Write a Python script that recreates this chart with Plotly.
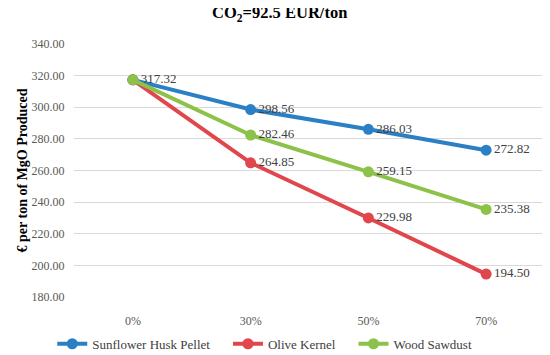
import plotly.graph_objects as go

categories = ["0%", "30%", "50%", "70%"]
sunflower = [317.32, 298.56, 286.03, 272.82]
olive = [317.32, 264.85, 229.98, 194.50]
wood = [317.32, 282.46, 259.15, 235.38]
y_ticks = [180, 200, 220, 240, 260, 280, 300, 320, 340]

series = [
    ("Sunflower Husk Pellet", sunflower, "#2B80C5"),
    ("Olive Kernel", olive, "#E0464B"),
    ("Wood Sawdust", wood, "#8CC14A"),
]

font_family = "Liberation Serif, DejaVu Serif, serif"
pad = "\u00a0" * 4

fig = go.Figure()
for i, (name, vals, col) in enumerate(series):
    labels = ["%.2f" % v for v in vals]
    if i != 0:
        labels[0] = ""
    fig.add_trace(go.Scatter(
        x=categories, y=vals, name=name + (pad if i < len(series) - 1 else ""),
        mode="lines+markers+text",
        line=dict(color=col, width=4),
        marker=dict(color=col, size=11),
        text=labels, textposition="middle right",
        textfont=dict(family=font_family, size=13, color="#404040"),
        cliponaxis=False,
    ))

fig.update_layout(
    width=550, height=355,
    margin=dict(l=66, r=13, t=36, b=66, autoexpand=False),
    paper_bgcolor="white", plot_bgcolor="white",
    title=dict(text="<b>CO<sub>2</sub>=92.5 EUR/ton</b>", x=0.494, xanchor="center",
               xref="container", yref="container",
               y=0.987, yanchor="middle",
               font=dict(family=font_family, size=16.5, color="#000000")),
    font=dict(family=font_family, color="#595959"),
    showlegend=True,
    legend=dict(orientation="h", x=0.405, xanchor="center",
                y=-0.185, yanchor="middle",
                font=dict(family=font_family, size=13, color="#404040"),
                itemwidth=30, tracegroupgap=0),
    xaxis=dict(type="category", categoryorder="array", categoryarray=categories,
               range=[-0.5, 3.5],
               showgrid=False, showline=False, zeroline=False,
               ticks="outside", ticklen=13, tickcolor="rgba(0,0,0,0)",
               tickfont=dict(family=font_family, size=12, color="#595959")),
    yaxis=dict(range=[180, 340], tickvals=y_ticks,
               ticktext=["%.2f" % v for v in y_ticks],
               showgrid=True, gridcolor="#D9D9D9", gridwidth=1,
               zeroline=False, showline=False,
               ticks="outside", ticklen=6, tickcolor="rgba(0,0,0,0)",
               tickfont=dict(family=font_family, size=12, color="#595959"),
               title=dict(text="<b>€ per ton of MgO Produced</b>",
                          font=dict(family=font_family, size=14, color="#000000"),
                          standoff=0)),
)

fig.write_html("out.html")
